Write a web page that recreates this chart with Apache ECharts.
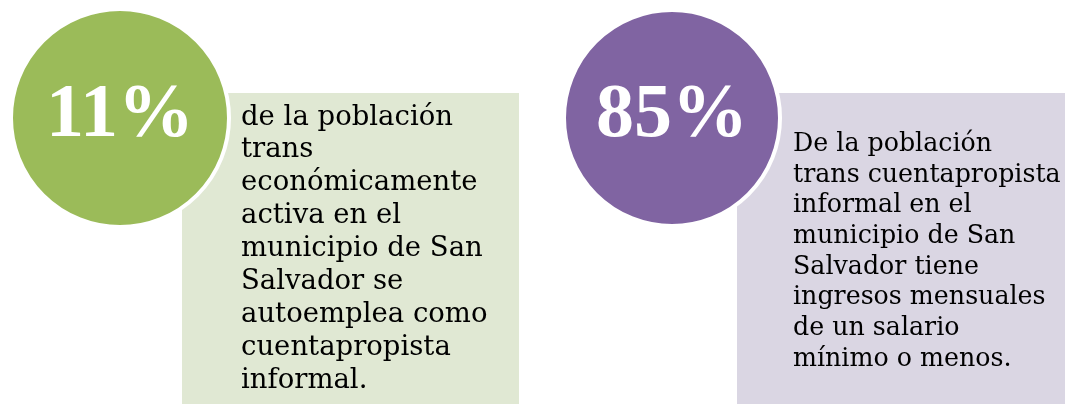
<!DOCTYPE html>
<html>
<head>
<meta charset="utf-8">
<script src="https://cdn.jsdelivr.net/npm/echarts@6/dist/echarts.min.js"></script>
<style>
  html, body { margin: 0; padding: 0; background: #fff; }
  #main { width: 1065px; height: 404px; }
</style>
</head>
<body>
<div id="main"></div>
<script>
var percentages = [11, 85];
var descriptions = [
    ['de la población', 'trans', 'económicamente', 'activa en el', 'municipio de San', 'Salvador se', 'autoemplea como', 'cuentapropista', 'informal.'],
    ['De la población', 'trans cuentapropista', 'informal en el', 'municipio de San', 'Salvador tiene', 'ingresos mensuales', 'de un salario', 'mínimo o menos.']
];
var circleColors = ['#9BBB59', '#8064A2'];
var boxColors = ['#E0E8D3', '#DAD6E3'];

var myChart = echarts.init(document.getElementById('main'));

// layout of each panel: circle, box and text position
var layout = [
    { cx: 120, cy: 118, r: 109, box: [182, 93, 337, 311], tx: 241, ty: 101, fs: 27.5, lh: 32.9 },
    { cx: 672, cy: 118, r: 108, box: [737, 93, 328, 311], tx: 793, ty: 129, fs: 25.3, lh: 30.7 }
];

var elements = [];
percentages.forEach(function (p, i) {
    var l = layout[i];
    elements.push({
        type: 'rect',
        shape: { x: l.box[0], y: l.box[1], width: l.box[2], height: l.box[3] },
        style: { fill: boxColors[i] },
        z: 1
    });
    elements.push({
        type: 'text',
        style: {
            text: descriptions[i].join('\n'),
            x: l.tx, y: l.ty,
            fill: '#000',
            font: l.fs + 'px "DejaVu Serif"',
            lineHeight: l.lh,
            verticalAlign: 'top'
        },
        z: 2
    });
    elements.push({
        type: 'circle',
        shape: { cx: l.cx, cy: l.cy, r: l.r },
        style: { fill: circleColors[i], stroke: '#fff', lineWidth: 4 },
        z: 3
    });
    elements.push({
        type: 'text',
        style: {
            text: p + '%',
            x: l.cx, y: l.cy - 2,
            fill: '#fff',
            font: 'bold 76px "Liberation Serif"',
            align: 'center',
            verticalAlign: 'middle'
        },
        z: 4
    });
});

myChart.setOption({
    animation: false,
    graphic: { elements: elements }
});
</script>
</body>
</html>
